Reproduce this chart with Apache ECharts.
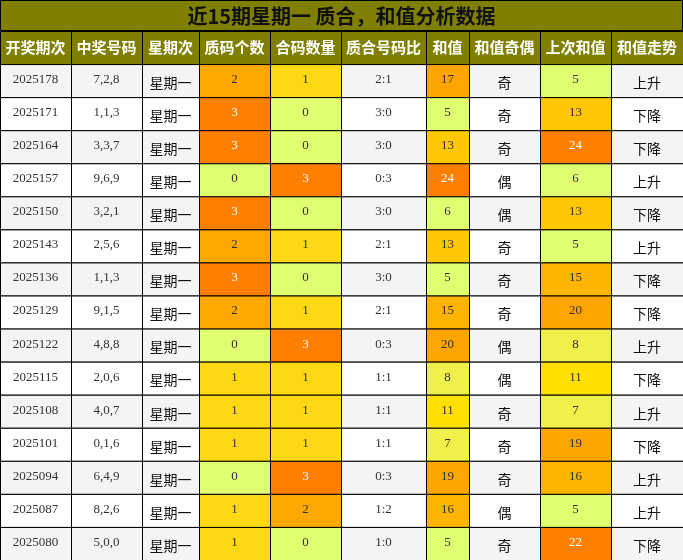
<!DOCTYPE html><html><head><meta charset="utf-8"><script src="https://cdn.jsdelivr.net/npm/echarts@6/dist/echarts.min.js"></script>
<style>html,body{margin:0;padding:0;background:#fff}#c{width:683px;height:560px}</style></head><body><div id="c"></div><script>
const titleText='近15期星期一 质合，和值分析数据';
const headers=['开奖期次','中奖号码','星期次','质码个数','合码数量','质合号码比','和值','和值奇偶','上次和值','和值走势'];
const periods=['2025178','2025171','2025164','2025157','2025150','2025143','2025136','2025129','2025122','2025115','2025108','2025101','2025094','2025087','2025080'];
const numbers=['7,2,8','1,1,3','3,3,7','9,6,9','3,2,1','2,5,6','1,1,3','9,1,5','4,8,8','2,0,6','4,0,7','0,1,6','6,4,9','8,2,6','5,0,0'];
const weekday='星期一';
const primeCount=[2,3,3,0,3,2,3,2,0,1,1,1,0,1,1];
const compCount=[1,0,0,3,0,1,0,1,3,1,1,1,3,2,0];
const ratio=['2:1','3:0','3:0','0:3','3:0','2:1','3:0','2:1','0:3','1:1','1:1','1:1','0:3','1:2','1:0'];
const sums=[17,5,13,24,6,13,5,15,20,8,11,7,19,16,5];
const parity=['奇','奇','奇','偶','偶','奇','奇','奇','偶','偶','奇','奇','奇','偶','奇'];
const prevSums=[5,13,24,6,13,5,15,20,8,11,7,19,16,5,22];
const trend=['上升','下降','下降','上升','下降','上升','下降','下降','上升','下降','上升','下降','上升','上升','下降'];

const edges=[0,71,142,199,270,341,426,469,540,611,683];
const countColor={0:'#e0ff70',1:'#ffd814',2:'#ffa800',3:'#ff8000'};
function sumColor(v){if(v<=6)return '#e0ff70';if(v<=8)return '#f0f04a';if(v<=11)return '#ffe000';if(v<=13)return '#ffc800';if(v<=16)return '#ffb400';if(v<=20)return '#ffa500';return '#ff8000';}
const rows=['h'].concat(periods);
const data=[];
headers.forEach((h,c)=>data.push([c,0,h,'#808000','#fff',1]));
periods.forEach((p,i)=>{
  const r=i+1, bg=i%2===0?'#f4f4f4':'#ffffff';
  const tc=c=>c==='#ff8000'?'#fff':'#333';
  data.push([0,r,p,bg,'#333',0]);
  data.push([1,r,numbers[i],bg,'#333',0]);
  data.push([2,r,weekday,bg,'#111',2]);
  let c1=countColor[primeCount[i]];data.push([3,r,String(primeCount[i]),c1,tc(c1),0]);
  let c2=countColor[compCount[i]];data.push([4,r,String(compCount[i]),c2,tc(c2),0]);
  data.push([5,r,ratio[i],bg,'#333',0]);
  let c3=sumColor(sums[i]);data.push([6,r,String(sums[i]),c3,tc(c3),0]);
  data.push([7,r,parity[i],bg,'#111',2]);
  let c4=sumColor(prevSums[i]);data.push([8,r,String(prevSums[i]),c4,tc(c4),0]);
  data.push([9,r,trend[i],bg,'#111',2]);
});
const chart=echarts.init(document.getElementById('c'));
chart.setOption({
  animation:false,
  graphic:[{type:'rect',shape:{x:0.5,y:0.5,width:682,height:30},style:{fill:'#808000',stroke:'#000',lineWidth:1}},
   {type:'text',x:341.5,y:16,style:{text:titleText,fill:'#111',font:'bold 20px "Noto Sans CJK SC"',align:'center',verticalAlign:'middle'}}],
  grid:{left:0,right:0,top:31,bottom:0},
  xAxis:{type:'value',min:0,max:683,show:false},
  yAxis:{type:'category',data:rows,inverse:true,show:false},
  series:[{type:'custom',data:data,renderItem:function(params,api){
    const d=data[params.dataIndex];
    const col=d[0],row=d[1];
    const p0=api.coord([edges[col],row]);const p1=api.coord([edges[col+1],row]);
    const h=api.size([0,1])[1];
    const x=p0[0],y=p0[1]-h/2,w=p1[0]-p0[0];
    let font;
    if(d[5]===1)font='bold 15px "Noto Sans CJK SC"';
    else if(d[5]===2)font='14px "Noto Sans CJK SC"';
    else font='13px "Liberation Serif"';
    return {type:'group',children:[
      {type:'rect',shape:{x:x+0.5,y:y+0.5,width:w,height:h},style:{fill:d[3],stroke:'#000',lineWidth:1}},
      {type:'text',x:x+w/2,y:y+h/2+(d[5]===2?2:(d[5]===1?0:-1)),style:{text:d[2],fill:d[4],font:font,align:'center',verticalAlign:'middle'}}
    ]};
  }}]
});
</script></body></html>
